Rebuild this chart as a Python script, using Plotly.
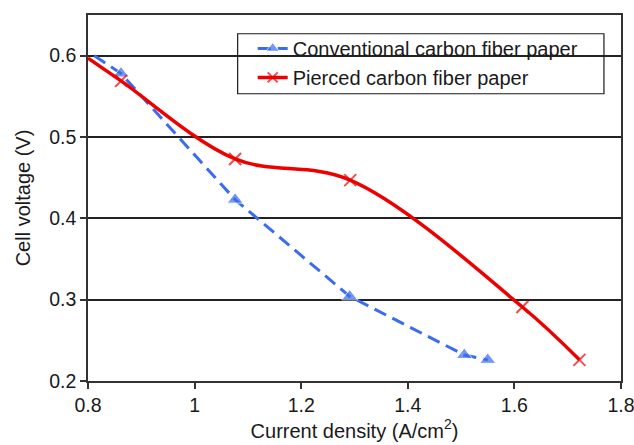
import plotly.graph_objects as go

# Data
conv_x = [0.812, 0.862, 1.076, 1.291, 1.506, 1.550]
conv_y = [0.600, 0.578, 0.423, 0.304, 0.232, 0.226]
conv_marker_size = [0, 14, 14, 14, 14, 14]

pier_x = [0.800, 0.862, 1.076, 1.292, 1.615, 1.722]
pier_y = [0.597, 0.569, 0.473, 0.447, 0.291, 0.226]
pier_marker_size = [0, 12, 12, 12, 12, 12]

x_ticks = [0.8, 1.0, 1.2, 1.4, 1.6, 1.8]
x_tick_text = ["0.8", "1", "1.2", "1.4", "1.6", "1.8"]
y_ticks = [0.2, 0.3, 0.4, 0.5, 0.6]
y_tick_text = ["0.2", "0.3", "0.4", "0.5", "0.6"]

BLUE = "#3a6cf0"
RED = "#ee0000"
INK = "#1a1a1a"
FONT = "Liberation Sans, Arial, sans-serif"

fig = go.Figure()
fig.add_trace(go.Scatter(
    x=conv_x, y=conv_y, mode="lines+markers",
    name="Conventional carbon fiber paper",
    line=dict(color=BLUE, width=3, dash="13px,7px"),
    marker=dict(symbol="triangle-up", size=conv_marker_size, color=BLUE),
    cliponaxis=True,
))
fig.add_trace(go.Scatter(
    x=pier_x, y=pier_y, mode="lines+markers",
    name="Pierced carbon fiber paper",
    line=dict(color=RED, width=3.5, shape="spline", smoothing=1.0),
    marker=dict(symbol="x-thin", size=pier_marker_size, color=RED,
                line=dict(color=RED, width=2)),
    cliponaxis=True,
))

# legend frame (box drawn separately so the symbol/text offsets match)
fig.add_shape(type="rect", xref="paper", yref="paper",
              x0=0.2808, x1=0.968, y0=0.7848, y1=0.9488,
              fillcolor="white", line=dict(width=0), layer="between")
fig.add_shape(type="rect", xref="paper", yref="paper",
              x0=0.2808, x1=0.968, y0=0.7848, y1=0.9488,
              fillcolor="rgba(0,0,0,0)", line=dict(color=INK, width=1.2), layer="above")

fig.update_layout(
    width=634, height=445,
    margin=dict(l=88, r=13, t=15, b=64),
    paper_bgcolor="white", plot_bgcolor="white",
    font=dict(family=FONT, size=19, color=INK),
    showlegend=True,
    legend=dict(
        x=0.309, y=0.962, xanchor="left", yanchor="top",
        bgcolor="rgba(0,0,0,0)", borderwidth=0,
        font=dict(family=FONT, size=20, color=INK),
        itemwidth=30, tracegroupgap=0,
    ),
    xaxis=dict(
        range=[0.8, 1.8], tickmode="array", tickvals=x_ticks, ticktext=x_tick_text,
        showgrid=False, zeroline=False, automargin=False, ticklabeloverflow="allow",
        showline=True, linecolor="#333333", linewidth=1.5, mirror=True,
        ticks="outside", ticklen=6, tickcolor="#333333", tickwidth=1.5,
        tickfont=dict(size=19.5),
        title=dict(text="Current density (A/cm<sup>2</sup>)", font=dict(size=20), standoff=2),
    ),
    yaxis=dict(
        range=[0.2, 0.65], tickmode="array", tickvals=y_ticks, ticktext=y_tick_text,
        showgrid=True, gridcolor="#222222", gridwidth=1.5, zeroline=False, automargin=False,
        showline=True, linecolor="#333333", linewidth=1.5, mirror=True,
        ticks="outside", ticklen=6, tickcolor="#333333", tickwidth=1.5,
        tickfont=dict(size=19.5),
        title=dict(text="Cell voltage (V)", font=dict(size=20), standoff=13),
    ),
)

fig.write_html("out.html")
